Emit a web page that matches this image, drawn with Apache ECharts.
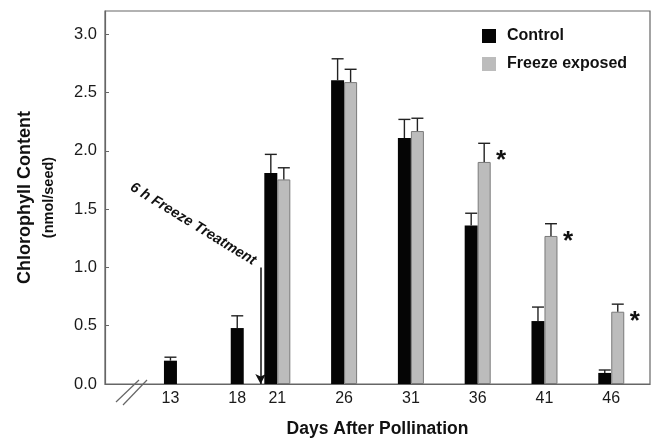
<!DOCTYPE html>
<html>
<head>
<meta charset="utf-8">
<script src="https://cdn.jsdelivr.net/npm/echarts@6/dist/echarts.min.js"></script>
<style>
  html, body { margin: 0; padding: 0; background: #fff; }
</style>
</head>
<body>
<div id="chart" style="width: 653px; height: 443px;"></div>
<script>
// days after pollination shown on the x axis
const days = [13, 18, 21, 26, 31, 36, 41, 46];
const yTicks = [0, 0.5, 1.0, 1.5, 2.0, 2.5, 3.0];

// control measured alone before the freeze
const earlyDays = [13, 18];
const earlyControl = [0.20, 0.48];
const earlyControlErr = [0.23, 0.585];

// paired measurements after the freeze
const pairDays = [21, 26, 31, 36, 41, 46];
const control = [1.81, 2.605, 2.11, 1.36, 0.54, 0.095];
const controlErr = [1.97, 2.79, 2.27, 1.465, 0.66, 0.12];
const freeze = [1.755, 2.59, 2.17, 1.905, 1.27, 0.62];
const freezeErr = [1.855, 2.70, 2.28, 2.065, 1.375, 0.685];
const freezeSig = [false, false, false, true, true, true];

const treatmentDay = 19.75;

// error bar rows: [day, mean, upper, side(-1 left, 0 centre, 1 right), significant]
const errRows = [];
earlyDays.forEach((d, i) => errRows.push([d, earlyControl[i], earlyControlErr[i], 0, 0]));
pairDays.forEach((d, i) => {
  errRows.push([d, control[i], controlErr[i], -1, 0]);
  errRows.push([d, freeze[i], freezeErr[i], 1, freezeSig[i] ? 1 : 0]);
});

const BAR_W = 13;
const X_MIN = 8.1, X_MAX = 48.9;

let chart = echarts.init(document.getElementById('chart'));
chart.setOption({
  animation: false,
  textStyle: { fontFamily: 'Liberation Sans, Arial, sans-serif' },
  grid: {
    left: 105, right: 3, top: 11, bottom: 53,
    show: true, borderColor: '#666', borderWidth: 1.2, backgroundColor: 'transparent'
  },
  legend: {
    data: [
      { name: 'Control', icon: 'rect' },
      { name: 'Freeze exposed', icon: 'rect', itemStyle: { borderWidth: 0 } }
    ],
    orient: 'vertical',
    left: 477, top: 23,
    itemWidth: 14, itemHeight: 14, itemGap: 12,
    textStyle: { fontSize: 16, fontWeight: 'bold', color: '#111', padding: [0, 0, 0, 6] }
  },
  xAxis: [
    {
      type: 'value', min: X_MIN, max: X_MAX,
      name: 'Days After Pollination', nameLocation: 'middle', nameGap: 36,
      nameTextStyle: { fontSize: 17.5, fontWeight: 'bold', color: '#111' },
      axisLine: { lineStyle: { color: '#666', width: 1.2 } },
      axisTick: { show: false },
      splitLine: { show: false },
      axisLabel: { customValues: days, fontSize: 16, color: '#1a1a1a', margin: 7 }
    },
    { type: 'value', min: X_MIN, max: X_MAX, show: false, splitLine: { show: false } }
  ],
  yAxis: {
    type: 'value', min: 0, max: 3.2,
    name: '{a|Chlorophyll Content}\n{b|(nmol/seed)}',
    nameLocation: 'middle', nameGap: 45, nameRotate: 90,
    nameTextStyle: {
      color: '#111',
      rich: {
        a: { fontSize: 18, fontWeight: 'bold', lineHeight: 23, color: '#111' },
        b: { fontSize: 14.5, fontWeight: 'bold', lineHeight: 23, color: '#111' }
      }
    },
    axisLine: { show: true, lineStyle: { color: '#666', width: 1.2 } },
    axisTick: { show: true, inside: true, length: 4, customValues: yTicks, lineStyle: { color: '#666' } },
    splitLine: { show: false },
    axisLabel: {
      customValues: yTicks, fontSize: 16.5, color: '#1a1a1a', margin: 8,
      formatter: v => v.toFixed(1)
    }
  },
  series: [
    {
      name: 'Control', type: 'bar', xAxisIndex: 0,
      barWidth: BAR_W, barGap: 0,
      itemStyle: { color: '#050505' },
      data: pairDays.map((d, i) => [d, control[i]])
    },
    {
      name: 'Freeze exposed', type: 'bar', xAxisIndex: 0,
      barWidth: BAR_W, barGap: 0,
      itemStyle: { color: '#bcbcbc', borderColor: '#7a7a7a', borderWidth: 1 },
      data: pairDays.map((d, i) => [d, freeze[i]])
    },
    {
      name: 'Control', type: 'bar', xAxisIndex: 1,
      barWidth: BAR_W,
      itemStyle: { color: '#050505' },
      data: earlyDays.map((d, i) => [d, earlyControl[i]])
    },
    {
      // error bars (upper half only) and significance stars
      type: 'custom', xAxisIndex: 0, z: 3,
      data: errRows,
      renderItem: function (params, api) {
        const side = api.value(3);
        const top = api.coord([api.value(0), api.value(1)]);
        const up = api.coord([api.value(0), api.value(2)]);
        const cx = top[0] + side * BAR_W / 2;
        const children = [
          { type: 'line', shape: { x1: cx, y1: top[1], x2: cx, y2: up[1] }, style: { stroke: '#222', lineWidth: 1.4 } },
          { type: 'line', shape: { x1: cx - 6, y1: up[1], x2: cx + 6, y2: up[1] }, style: { stroke: '#222', lineWidth: 1.4 } }
        ];
        if (api.value(4)) {
          children.push({
            type: 'text',
            style: { text: '*', x: cx + 17, y: up[1] + 18, fontSize: 26, fontWeight: 'bold', fill: '#111', align: 'center', verticalAlign: 'middle' }
          });
        }
        return { type: 'group', children: children };
      },
      // freeze treatment arrow
      markLine: {
        silent: true,
        symbol: ['none', 'arrow'], symbolSize: [8, 10],
        label: { show: false },
        lineStyle: { color: '#111', width: 1.5, type: 'solid' },
        data: [[{ coord: [treatmentDay, 1.0] }, { coord: [treatmentDay, 0] }]]
      }
    }
  ],
  graphic: [
    {
      type: 'text', x: 193, y: 224, rotation: -0.55,
      style: {
        text: '6 h Freeze Treatment', fontSize: 14.5, fontWeight: 'bold', fontStyle: 'italic',
        fill: '#111', align: 'center', verticalAlign: 'middle',
        fontFamily: 'Liberation Sans, Arial, sans-serif'
      }
    },
    { type: 'line', shape: { x1: 116, y1: 402, x2: 139, y2: 380 }, style: { stroke: '#666', lineWidth: 1.2 } },
    { type: 'line', shape: { x1: 123, y1: 405, x2: 147, y2: 380 }, style: { stroke: '#666', lineWidth: 1.2 } }
  ]
});
</script>
</body>
</html>
